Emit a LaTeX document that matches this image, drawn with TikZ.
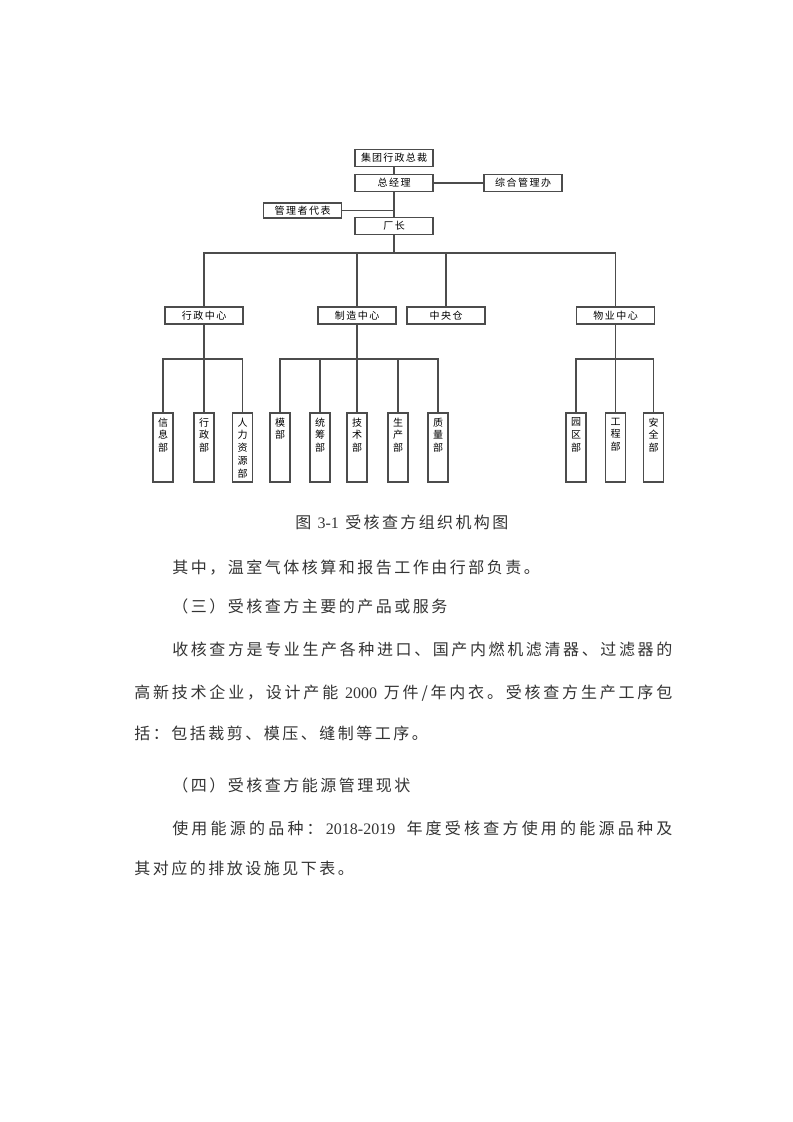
\documentclass[tikz,border=0pt]{standalone}
\usepackage{fontspec}
\setmainfont{Liberation Serif}
\newfontfamily\cjk{Noto Sans CJK SC}
\newfontfamily\lat{Liberation Serif}
\newdimen\pxu \pxu=0.75pt
\makeatletter
\newcommand\spreadto[2]{\hbox to #1{\@tfor\cjktok:=#2\do{\cjktok\hfill}\unskip}}
\newcommand\tracked[2]{\hbox{\@tfor\cjktok:=#2\do{\cjktok\hskip#1\relax}\unskip}}
\makeatother
\newcommand\lblfont{\cjk\fontsize{7.5}{9.6}\selectfont}
\newcommand\bodyfont{\cjk\fontsize{12}{14}\selectfont}
\begin{document}
\begin{tikzpicture}[x=0.75pt,y=-0.75pt,
  hbox/.style={draw=black!70,line width=0.8pt,fill=white,inner sep=0pt,
    minimum width=58.5pt,minimum height=12.75pt,font=\lblfont},
  vbox/.style={draw=black!70,line width=0.8pt,fill=white,inner sep=0pt,
    minimum width=15pt,minimum height=51.75pt},
  vlbl/.style={anchor=north,inner sep=0pt,align=center,font=\lblfont},
  conn/.style={draw=black!70,line width=0.8pt},
  body/.style={anchor=base west,inner sep=0pt,font=\bodyfont,text=black!80}]
\path[use as bounding box] (0,0) rectangle (793,1122);

% ---- top levels
\node[hbox] (top) at (394,158) {\tracked{1.2\pxu}{集团行政总裁}};
\node[hbox] (gm) at (394,183) {\tracked{1.5\pxu}{总经理}};
\node[hbox] (office) at (523,183) {\tracked{1.5\pxu}{综合管理办}};
\node[hbox,minimum height=11.25pt] (rep) at (302.5,210.5) {\tracked{1.5\pxu}{管理者代表}};
\node[hbox] (fm) at (394,226) {\tracked{1.5\pxu}{厂长}};

\draw[conn] (top.south) -- (gm.north);
\draw[conn] (gm.south) -- (fm.north);
\draw[conn] (gm.east) -- (office.west);
\draw[conn] (rep.east) -- (rep.east -| gm.south);

% ---- centres
\node[hbox] (admin) at (204,315.5) {\tracked{1.5\pxu}{行政中心}};
\node[hbox] (mfg) at (357,315.5) {\tracked{1.5\pxu}{制造中心}};
\node[hbox] (cw) at (446,315.5) {\tracked{1.5\pxu}{中央仓}};
\node[hbox] (prop) at (615.5,315.5) {\tracked{1.5\pxu}{物业中心}};

\coordinate (bus1) at (394,253);
\coordinate (bus2) at (0,359);
\draw[conn] (fm.south) -- (fm.south |- bus1);
\draw[conn] (admin.north) |- (prop.north |- bus1) -- (prop.north);
\draw[conn] (mfg.north) -- (mfg.north |- bus1);
\draw[conn] (cw.north) -- (cw.north |- bus1);

% ---- departments
\foreach \nm/\xx/\txt in {info/163/信\\息\\部, adm/204/行\\政\\部, hr/242.5/人\\力\\资\\源\\部,
  mold/280/模\\部, plan/320/统\\筹\\部, tech/357/技\\术\\部, prod/398/生\\产\\部, qual/438/质\\量\\部,
  park/576/园\\区\\部, eng/615.5/工\\程\\部, safe/653.5/安\\全\\部}{
  \node[vbox] (\nm) at (\xx,447.5) {};
  \node[vlbl] (\nm t) at ([yshift=-3.75pt]\nm.north) {\txt};
}

\draw[conn] (admin.south) -- (admin.south |- bus2);
\draw[conn] (info.north) |- (hr.north |- bus2) -- (hr.north);
\draw[conn] (adm.north) -- (adm.north |- bus2);

\draw[conn] (mfg.south) -- (mfg.south |- bus2);
\draw[conn] (mold.north) |- (qual.north |- bus2) -- (qual.north);
\draw[conn] (plan.north) -- (plan.north |- bus2);
\draw[conn] (tech.north) -- (tech.north |- bus2);
\draw[conn] (prod.north) -- (prod.north |- bus2);

\draw[conn] (prop.south) -- (prop.south |- bus2);
\draw[conn] (park.north) |- (safe.north |- bus2) -- (safe.north);
\draw[conn] (eng.north) -- (eng.north |- bus2);

% ---- text below
\node[body] (cap) at (295,528) {\spreadto{213\pxu}{图{{\lat\ 3-1\ }}受核查方组织机构图}};
\node[body] (p1) at (172,573) {\tracked{2.5\pxu}{其中，温室气体核算和报告工作由行部负责。}};
\node[body] (h3) at (172,612) {\tracked{2.5\pxu}{（三）受核查方主要的产品或服务}};
\node[body] (p2a) at (172,655) {\spreadto{500\pxu}{收核查方是专业生产各种进口、国产内燃机滤清器、过滤器的}};
\node[body] (p2b) at (134,698) {\spreadto{538\pxu}{高新技术企业，设计产能{{\lat\ 2000\ }}万件/年内衣。受核查方生产工序包}};
\node[body] (p2c) at (134,739) {\tracked{2.5\pxu}{括：包括裁剪、模压、缝制等工序。}};
\node[body] (h4) at (172,791) {\tracked{2.5\pxu}{（四）受核查方能源管理现状}};
\node[body] (p3a) at (172,834) {\spreadto{500\pxu}{使用能源的品种：{{\lat 2018-2019\ \ }}年度受核查方使用的能源品种及}};
\node[body] (p3b) at (134,874) {\tracked{2.5\pxu}{其对应的排放设施见下表。}};
\end{tikzpicture}
\end{document}
